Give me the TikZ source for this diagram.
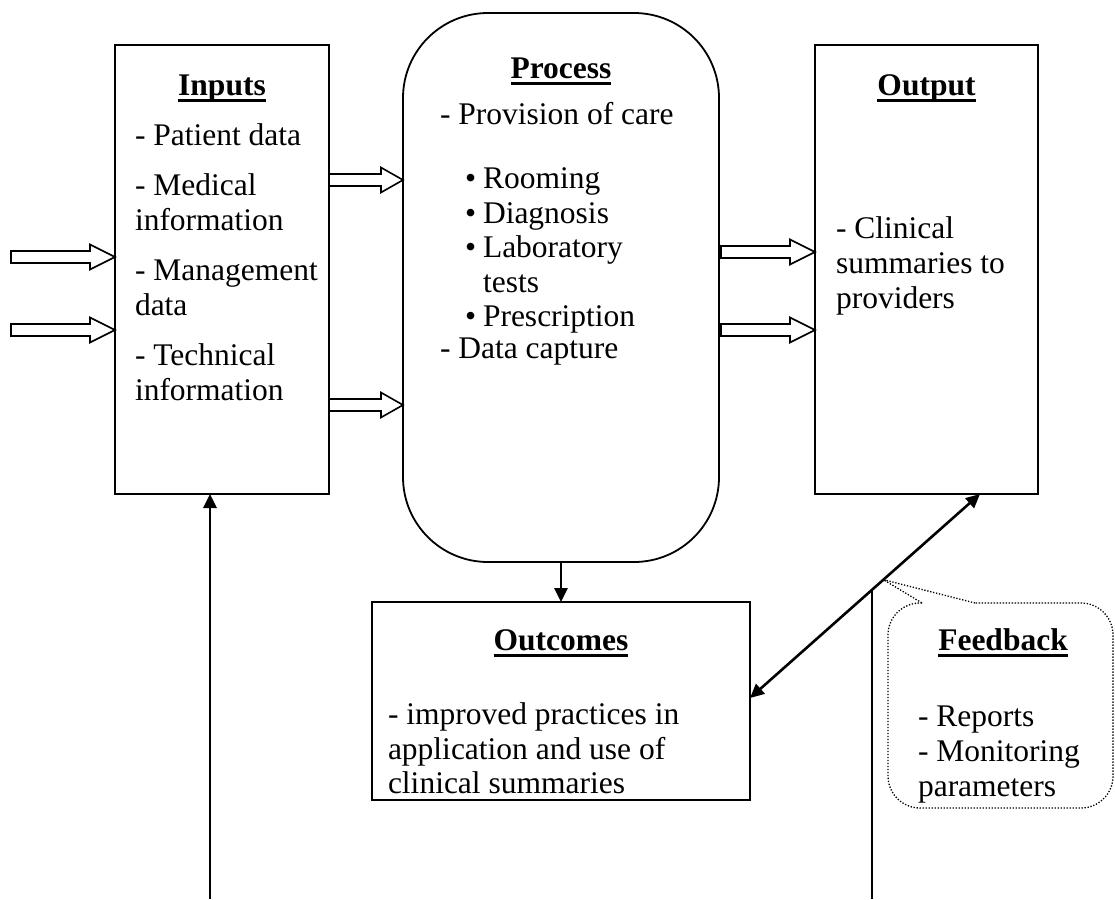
\documentclass[tikz,border=0pt]{standalone}
\usepackage{fontspec}
\setmainfont{Liberation Serif}
\usetikzlibrary{arrows.meta,calc}
\newcommand\myul[1]{\setbox0\hbox{#1}\rlap{\rule[-7pt]{\wd0}{3.2pt}}\box0}
\newcommand\ttl[1]{\textbf{\myul{#1}}}
\newcommand\barrow[3]{\draw[blk] (#1) ++(-#2,-6) -- ++(#2-#3,0) -- ++(0,-6.5) -- (#1) -- ++(-#3,12.5) -- ++(0,-6.5) -- ++(-#2+#3,0) -- cycle;}
\begin{document}
\begin{tikzpicture}[x=1pt,y=-1pt,
  every node/.style={inner sep=0pt,outer sep=0pt},
  txt/.style={anchor=base west,font=\fontsize{31.5pt}{36pt}\selectfont},
  ttlnode/.style={anchor=base,font=\fontsize{31.5pt}{36pt}\selectfont},
  box/.style={draw,line width=1.8pt},
  blk/.style={draw,line width=1.6pt,fill=white,line join=miter},
  arr/.style={line width=2.6pt,-{Triangle[length=14pt,width=13pt]}},
  darr/.style={line width=2.6pt,{Triangle[length=14pt,width=13pt]}-{Triangle[length=14pt,width=13pt]}},
  dots/.style={line width=1.3pt,dash pattern=on 1.3pt off 1.7pt}]
\useasboundingbox (0,0) rectangle (1115,899);
% boxes
\node[box,minimum width=214pt,minimum height=449pt] (inputs) at (222,269.5) {};
\node[box,rounded corners=85pt,minimum width=316pt,minimum height=549pt] (process) at (561,287.5) {};
\node[box,minimum width=223pt,minimum height=449pt] (output) at (926.5,269.5) {};
\node[box,minimum width=378pt,minimum height=198pt] (outcomes) at (561,701) {};
% inputs text
\node[ttlnode] (tin) at (222,95) {\ttl{Inputs}};
\node[txt] (in1) at (135,145) {- Patient data};
\node[txt] (in2) at (135,195) {- Medical};
\node[txt] (in3) at (135,230) {information};
\node[txt] (in4) at (135,280) {- Management};
\node[txt] (in5) at (135,315) {data};
\node[txt] (in6) at (135,365) {- Technical};
\node[txt] (in7) at (135,400) {information};
% process text
\node[ttlnode] (tpr) at (561,78) {\ttl{Process}};
\node[txt] (pr1) at (440,124) {- Provision of care};
\node[txt] (pb1) at (465,188) {•};
\node[txt] (pr2) at (483,188) {Rooming};
\node[txt] (pb2) at (465,223) {•};
\node[txt] (pr3) at (483,223) {Diagnosis};
\node[txt] (pb3) at (465,257) {•};
\node[txt] (pr4) at (483,257) {Laboratory};
\node[txt] (pr5) at (483,292) {tests};
\node[txt] (pb4) at (465,326) {•};
\node[txt] (pr6) at (483,326) {Prescription};
\node[txt] (pr7) at (440,358) {- Data capture};
% output text
\node[ttlnode] (tout) at (926.5,95) {\ttl{Output}};
\node[txt] (ou1) at (836,238) {- Clinical};
\node[txt] (ou2) at (836,273) {summaries to};
\node[txt] (ou3) at (836,308) {providers};
% outcomes text
\node[ttlnode] (toc) at (561,650) {\ttl{Outcomes}};
\node[txt] (oc1) at (388,724) {- improved practices in};
\node[txt] (oc2) at (388,759) {application and use of};
\node[txt] (oc3) at (388,793) {clinical summaries};
% feedback text
\node[ttlnode] (tfb) at (1003,650) {\ttl{Feedback}};
\node[txt] (fb1) at (918,726) {- Reports};
\node[txt] (fb2) at (918,761) {- Monitoring};
\node[txt] (fb3) at (918,796) {parameters};
% block arrows
\barrow{inputs.west |- 0,257}{104}{25}
\barrow{inputs.west |- 0,330}{104}{25}
\barrow{process.west |- 0,180}{74}{22}
\barrow{process.west |- 0,405}{74}{22}
\barrow{output.west |- 0,252}{94}{25}
\barrow{output.west |- 0,330}{94}{25}
% connectors
\coordinate (upstart) at (210,899);
\draw[arr] (upstart) -- (inputs.south -| upstart);
\draw[arr] (process.south) -- (outcomes.north);
\coordinate (dA) at (outcomes.east |- 0,698);
\coordinate (dB) at (output.south -| 980,0);
\draw[darr] (dA) -- (dB);
\coordinate (vtop) at ($(dA)!0.53!(dB)$);
\coordinate (vbot) at (vtop |- 0,899);
\draw[line width=2.6pt] (vbot) -- (vtop);
% feedback callout
\coordinate (fbtip) at ($(dA)!0.58!(dB)$);
\draw[dots,rounded corners=32pt] (922,603) -- (888,603) -- (888,808) -- (1113,808) -- (1113,603) -- (975,603);
\draw[dots] (975,603) -- (fbtip) -- (922,603);
\end{tikzpicture}
\end{document}
